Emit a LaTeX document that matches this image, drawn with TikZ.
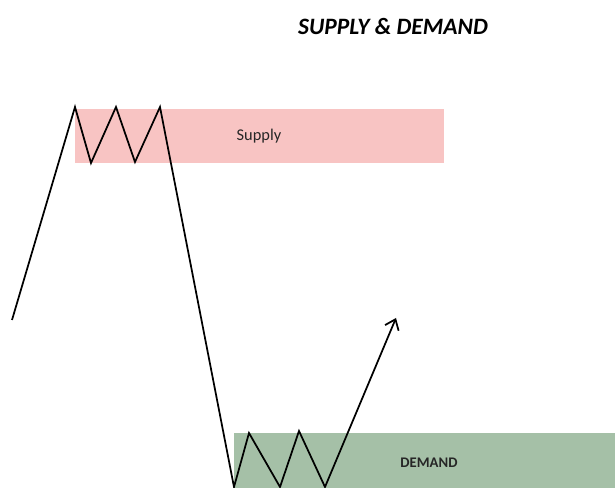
\documentclass[tikz,border=0pt]{standalone}
\usepackage{fontspec}
\setmainfont{Carlito}
\usetikzlibrary{arrows.meta}
\definecolor{supplycol}{HTML}{F8C4C3}
\definecolor{demandcol}{HTML}{A5C0A7}
\begin{document}
\begin{tikzpicture}[x=0.75pt,y=-0.75pt,
  zone/.style={draw=none,inner sep=0pt,anchor=north west},
  price/.style={line width=1.3pt,line join=miter,black},
  lbl/.style={font=\fontsize{12.3}{14}\selectfont,text=black!85}]
\useasboundingbox (0,0) rectangle (615,488);
\fill[white] (0,0) rectangle (615,488);
% zones
\fill[supplycol] (75,109) rectangle (444,163);
\fill[demandcol] (234,433) rectangle (615,488);
\node[lbl] (supply) at (259,136) {Supply};
\node[lbl,font=\bfseries\fontsize{11}{13}\selectfont] (demand) at (429,463) {DEMAND};
\node[font=\bfseries\itshape\fontsize{17.6}{20}\selectfont] (title) at (393,27) {SUPPLY \& DEMAND};
% price path
\coordinate (p0) at (12,320);
\coordinate (p1) at (75,107);
\coordinate (p2) at (91,163);
\coordinate (p3) at (116,107);
\coordinate (p4) at (135,162);
\coordinate (p5) at (160,107);
\coordinate (p6) at (234,487);
\coordinate (p7) at (249,433);
\coordinate (p8) at (280,487);
\coordinate (p9) at (299,431);
\coordinate (p10) at (325,487);
\coordinate (p11) at (396,318);
\draw[price,-{Straight Barb[length=7pt,width=11pt,line width=1.3pt]}]
  (p0) -- (p1) -- (p2) -- (p3) -- (p4) -- (p5) -- (p6) -- (p7) -- (p8) -- (p9) -- (p10) -- (p11);
\end{tikzpicture}
\end{document}
